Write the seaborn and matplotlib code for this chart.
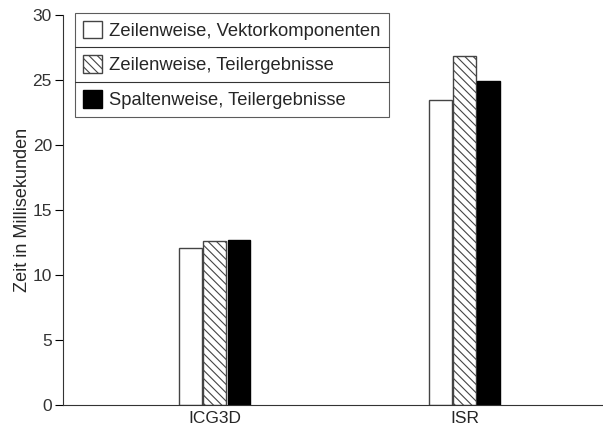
import matplotlib
matplotlib.use('Agg')
import matplotlib.pyplot as plt
import pandas as pd
import seaborn as sns
from matplotlib.lines import Line2D

# values (ms)
programs = ['ICG3D', 'ISR']
methods = ['Zeilenweise, Vektorkomponenten', 'Zeilenweise, Teilergebnisse', 'Spaltenweise, Teilergebnisse']
zeilen_vektor = [12.1, 23.5]
zeilen_teil = [12.6, 26.85]
spalten_teil = [12.7, 24.9]

df = pd.DataFrame({
    'Programm': programs * 3,
    'Variante': [m for m in methods for _ in programs],
    'Zeit': zeilen_vektor + zeilen_teil + spalten_teil,
})

sns.set_style('ticks')
plt.rcParams['font.family'] = ['Liberation Sans', 'DejaVu Sans']
plt.rcParams['hatch.linewidth'] = 0.8

fig, ax = plt.subplots(figsize=(6.03, 4.29), dpi=100)
fig.subplots_adjust(left=0.1045, right=0.999, top=0.965, bottom=0.056)

sns.barplot(data=df, x='Programm', y='Zeit', hue='Variante', hue_order=methods,
            palette=['white', 'white', 'black'], width=0.29, gap=0.06,
            edgecolor='#444444', linewidth=1.0, saturation=1, ax=ax, legend=False)

for bar in ax.containers[1]:
    bar.set_hatch('\\\\\\\\')
for bar in ax.containers[2]:
    bar.set_edgecolor('black')

ax.set_ylim(0, 30)
ax.set_xlim(-0.608, 1.552)
ax.set_yticks(range(0, 31, 5))
ax.set_xlabel('')
ax.set_ylabel('Zeit in Millisekunden', fontsize=13, labelpad=1)
ax.tick_params(axis='y', labelsize=12.5, length=6, width=0.8, colors='black', pad=2)
ax.tick_params(axis='x', labelsize=12.5, length=0, pad=4)
for lab in ax.get_yticklabels():
    lab.set_color('#333333')
sns.despine(ax=ax)
for s in ['left', 'bottom']:
    ax.spines[s].set_linewidth(0.8)
    ax.spines[s].set_color('#333333')

leg = ax.legend(handles=list(ax.containers), labels=methods, loc='upper left',
                bbox_to_anchor=(0.022, 1.006), fontsize=13.2, frameon=True, fancybox=False,
                edgecolor='#333333', handlelength=1.05, handleheight=1.1, handletextpad=0.4,
                labelspacing=0.86, borderpad=0.43, borderaxespad=0)
leg.get_frame().set_linewidth(0.8)

# separator lines between legend rows
fig.canvas.draw()
bb = leg.get_window_extent().transformed(fig.transFigure.inverted())
for k in (1, 2):
    yy = bb.y0 + bb.height * k / 3
    fig.add_artist(Line2D([bb.x0, bb.x1], [yy, yy], transform=fig.transFigure,
                          color='#333333', linewidth=0.8))

plt.savefig('out.png', dpi=100)
